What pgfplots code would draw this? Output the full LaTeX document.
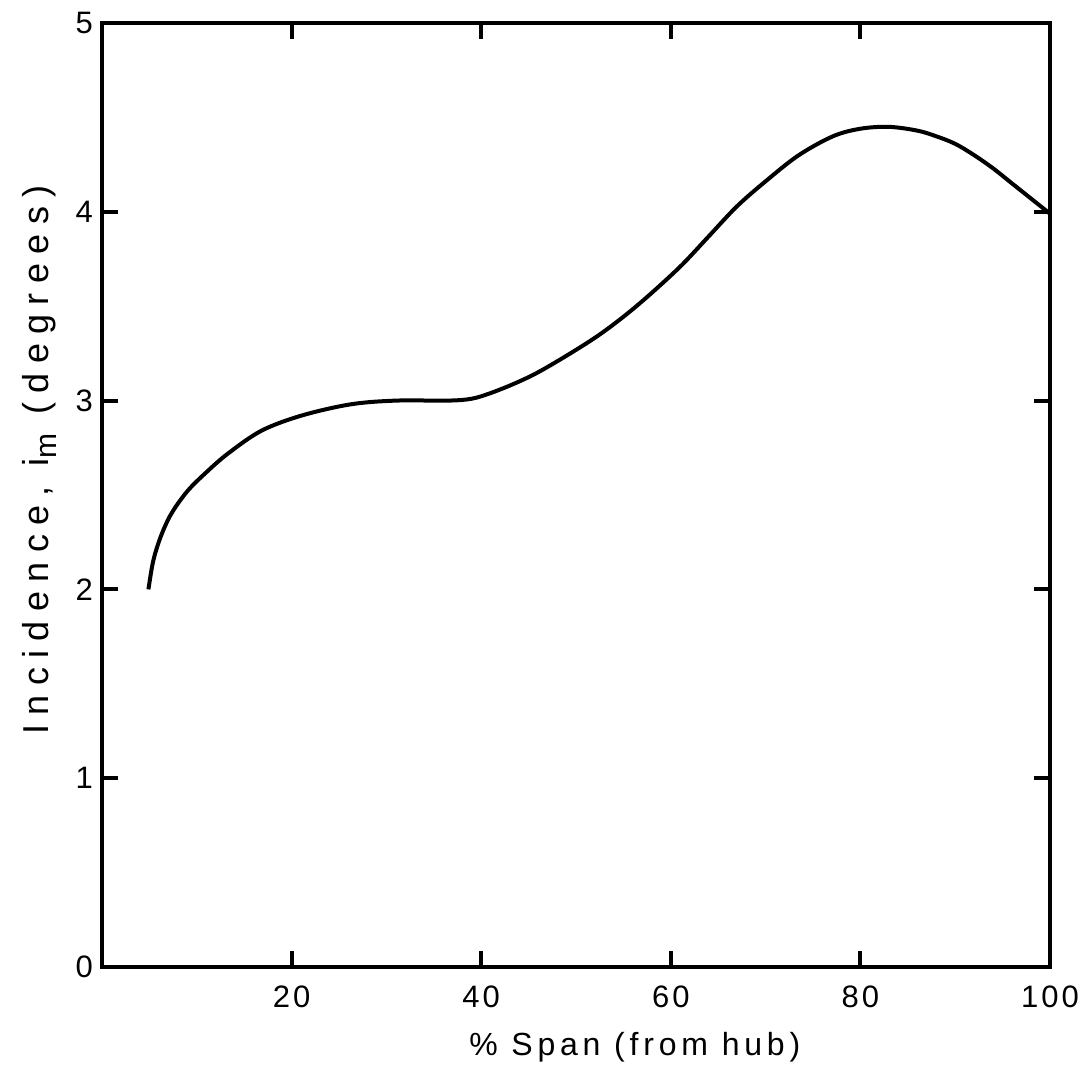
\documentclass[border=0pt]{standalone}
\usepackage{fontspec}
\setmainfont{Liberation Sans}
\usepackage{pgfplots}
\pgfplotsset{compat=1.18}
\newfontfamily\ylblfont[LetterSpace=26]{Liberation Sans}
\newfontfamily\xlblfont[LetterSpace=15]{Liberation Sans}
\newfontfamily\tickfont[LetterSpace=10]{Liberation Sans}
\begin{document}
\begin{tikzpicture}
\useasboundingbox (-51pt,-52pt) rectangle (490.5pt,483.5pt);
\begin{axis}[
  at={(0pt,0pt)}, anchor=south west,
  scale only axis,
  width=474pt, height=472pt,
  xmin=0, xmax=100, ymin=0, ymax=5,
  xtick={20,40,60,80,100},
  ytick={0,1,2,3,4,5},
  tick align=inside,
  major tick length=8pt,
  axis line style={line width=2pt},
  every tick/.style={line width=2pt, black},
  /pgf/number format/assume math mode=true,
  tick label style={font=\fontsize{15.5}{18}\selectfont\tickfont},
  xticklabel style={yshift=-6pt},
  yticklabel style={xshift=-1pt},
  xlabel={\% Span (from hub)},
  ylabel={Incidence, i\raisebox{-0.45ex}{\fontsize{15}{17}\selectfont m} (degrees)},
  xlabel style={font=\fontsize{16}{19}\selectfont\xlblfont, at={(rel axis cs:0.562,0)}, anchor=north, yshift=-29pt},
  ylabel style={font=\fontsize{18}{21}\selectfont\ylblfont, at={(rel axis cs:0,0.537)}, anchor=south, yshift=19pt},
]
\addplot[black, line width=2pt, smooth, tension=0.55] table {
x y
4.9 2.00
5.4 2.15
6.2 2.28
7.3 2.40
9.0 2.52
11.0 2.62
13.3 2.72
16.8 2.84
21 2.92
26.2 2.98
31 3.00
36.5 3.00
39 3.01
41 3.04
43.5 3.09
46 3.15
49.4 3.25
52.5 3.35
55.4 3.46
58.2 3.58
61.2 3.72
64 3.87
67 4.03
70.2 4.17
73.5 4.30
77.1 4.40
80 4.44
83 4.45
86 4.43
88 4.40
90 4.36
92 4.30
94 4.23
96 4.15
98 4.07
100 3.99
};
\end{axis}
\end{tikzpicture}
\end{document}
